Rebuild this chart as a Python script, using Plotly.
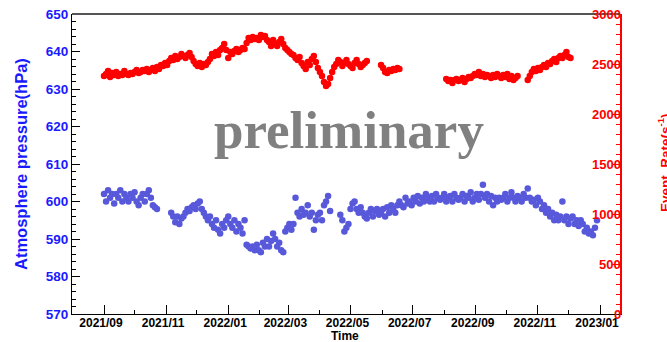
import pandas as pd
import plotly.graph_objects as go

# ---------------- data (one value every 2 days) ----------------
# Atmospheric pressure (hPa), left axis
pres_seg1_start = "2021-09-01"
pres_seg1 = [602, 600, 603, 601, 602, 599.5, 602, 601, 603, 600, 602, 601, 600, 602, 601,
             602.5, 600, 599, 601, 602, 600, 602, 603, 601, 599, 598.5, 598]
pres_seg2_start = "2021-11-06"
pres_seg2 = [597, 596, 594.5, 596, 594, 595.5, 596, 597, 598, 597.5, 598.5, 599, 598, 599.5,
             600, 598, 597, 596, 595, 596, 594, 593, 595, 592.5, 591.5, 594, 593, 595, 596,
             594, 593, 595, 592, 594, 593, 591.5, 595, 588.5, 588, 587.5, 588, 587, 588.5,
             587, 586.5, 589, 588, 590, 588, 589.5, 591.5, 590, 588, 589, 587, 586.5, 592,
             593, 594, 592.5, 594, 601, 597, 596, 598, 596.5, 597, 599, 596, 597, 592.5, 595,
             596.5, 597, 595, 599, 600, 601.5, 597.5]
pres_seg3_start = "2022-04-21"
pres_seg3 = [596.5, 595, 592, 593, 594, 598, 599.5, 600, 598, 597, 598.5, 597, 596, 595.5,
             597, 598, 596, 597.5, 598, 596.5, 597, 598, 596, 598.5, 597, 599, 598, 597, 599,
             600, 599, 598.5, 601, 599.5, 600, 599, 601, 600, 601.5, 599.5, 601, 600, 602,
             601, 600, 601.5, 600, 602, 601, 600.5, 601, 602, 600, 601, 601.5, 600, 602, 601,
             600.5, 601, 602, 600, 601.5, 601, 602.5, 600, 601, 602, 600.5, 602, 604.5, 601,
             602, 600, 601.5, 599, 601, 600, 601, 600.5, 601, 602, 600, 601, 602.5, 601, 600,
             601.5, 601, 600, 602, 601, 603.5, 601, 600, 600.5, 599, 601, 600, 598, 599, 597,
             598, 596, 597, 595, 596.5, 595, 596, 600, 595, 596, 594, 595.5, 596, 594, 595,
             593.5, 595, 594, 592, 593, 591.5, 592, 591, 593, 595]

# Event rate (s^-1), right axis
rate_seg1_start = "2021-09-01"
rate_seg1 = [2380, 2400, 2430, 2370, 2410, 2390, 2420, 2380, 2400, 2390, 2430, 2400, 2390,
             2410, 2400, 2420, 2440, 2410, 2420, 2440, 2430, 2450, 2420, 2440, 2460, 2430,
             2470, 2450, 2490, 2480, 2510, 2490, 2530, 2560, 2540, 2580, 2550, 2570, 2600,
             2580, 2560, 2590, 2610, 2570, 2530, 2500, 2480, 2510, 2470, 2500, 2490, 2520,
             2550, 2600, 2580, 2620, 2590, 2640, 2660, 2700, 2640, 2560, 2620, 2600, 2630,
             2650, 2620, 2640, 2660, 2650, 2710, 2760, 2740, 2770, 2750, 2760, 2740, 2790,
             2770, 2780, 2740, 2720, 2680, 2740, 2700, 2680, 2720, 2750, 2700, 2660, 2640,
             2620, 2600, 2590, 2560, 2540, 2570, 2510, 2480, 2450, 2520, 2490, 2550, 2580,
             2520, 2460, 2420, 2380, 2320, 2280, 2300, 2360, 2420, 2470, 2500, 2540, 2520,
             2480, 2510, 2540, 2500, 2480, 2460, 2510, 2540, 2500, 2470, 2490, 2510, 2530]
rate_seg2_start = "2022-05-31"
rate_seg2 = [2490, 2460, 2420, 2410, 2440, 2430, 2450, 2440, 2460, 2450]
rate_seg3_start = "2022-08-03"
rate_seg3 = [2350, 2330, 2340, 2310, 2340, 2350, 2330, 2340, 2360, 2320, 2350, 2370, 2360,
             2380, 2400, 2390, 2420, 2380, 2400, 2370, 2390, 2380, 2360, 2390, 2370, 2400,
             2380, 2360, 2390, 2370, 2400, 2350, 2380, 2340, 2360, 2380]
rate_seg4_start = "2022-10-22"
rate_seg4 = [2340, 2380, 2420, 2450, 2430, 2460, 2440, 2470, 2490, 2470, 2510, 2500, 2530,
             2550, 2520, 2560, 2580, 2560, 2590, 2620, 2570, 2560]

left_ticks = [570, 580, 590, 600, 610, 620, 630, 640, 650]
right_ticks = [0, 500, 1000, 1500, 2000, 2500, 3000]
x_tick_dates = ["2021-09-01", "2021-11-01", "2022-01-01", "2022-03-01", "2022-05-01",
                "2022-07-01", "2022-09-01", "2022-11-01", "2023-01-01"]
x_tick_labels = ["2021/09", "2021/11", "2022/01", "2022/03", "2022/05",
                 "2022/07", "2022/09", "2022/11", "2023/01"]


def series(segments):
    xs, ys = [], []
    for start, vals in segments:
        xs += list(pd.date_range(start, periods=len(vals), freq="2D"))
        ys += vals
    return xs, ys


px_, py_ = series([(pres_seg1_start, pres_seg1), (pres_seg2_start, pres_seg2),
                   (pres_seg3_start, pres_seg3)])
rx_, ry_ = series([(rate_seg1_start, rate_seg1), (rate_seg2_start, rate_seg2),
                   (rate_seg3_start, rate_seg3), (rate_seg4_start, rate_seg4)])

BLUE = "#5858da"
RED = "#ff0000"
LBLUE = "#1a1aff"
FONT = "Liberation Sans, Arial, sans-serif"

fig = go.Figure()
fig.add_trace(go.Scatter(x=rx_, y=ry_, mode="markers", yaxis="y2",
                         marker=dict(color=RED, size=6.5, line=dict(width=0)),
                         showlegend=False))
fig.add_trace(go.Scatter(x=px_, y=py_, mode="markers", yaxis="y",
                         marker=dict(color=BLUE, size=6.5, line=dict(width=0)),
                         showlegend=False))

fig.update_layout(
    width=667, height=342,
    margin=dict(l=72, r=47, t=14, b=28),
    plot_bgcolor="white", paper_bgcolor="white",
    showlegend=False,
    xaxis=dict(
        type="date", automargin=False,
        range=["2021-07-31 14:00", "2023-01-20 14:00"],
        tickvals=x_tick_dates, ticktext=x_tick_labels,
        ticks="inside", ticklen=9, tickcolor="black", tickwidth=1,
        minor=dict(dtick="M1", tick0="2021-08-01", ticks="inside", ticklen=4,
                   tickcolor="black"),
        showline=True, linecolor="black", linewidth=1,
        showgrid=False, zeroline=False,
        tickfont=dict(family=FONT, size=12, color="black", weight="bold"),
        ticklabelshift=-3, ticklabelstandoff=-2,
    ),
    yaxis=dict(
        range=[570, 650], tickvals=left_ticks, automargin=False,
        ticks="inside", ticklen=8, tickcolor="black",
        minor=dict(dtick=2, ticks="inside", ticklen=4, tickcolor="black"),
        showline=True, linecolor="black", linewidth=1,
        showgrid=False, zeroline=False,
        tickfont=dict(family=FONT, size=13.5, color=LBLUE, weight="bold"),
    ),
    yaxis2=dict(
        range=[0, 3000], tickvals=right_ticks, overlaying="y", side="right", anchor="x",
        automargin=False,
        ticks="inside", ticklen=8, tickcolor=RED,
        minor=dict(dtick=100, ticks="inside", ticklen=4, tickcolor=RED),
        showline=True, linecolor=RED, linewidth=2,
        showgrid=False, zeroline=False,
        showticklabels=False,
    ),
)

# top frame line
fig.add_shape(type="line", xref="paper", yref="paper", x0=0, x1=1, y0=1, y1=1,
              line=dict(color="#555555", width=2))

W = 548.0
H = 300.0
# right-axis tick labels (drawn inside the frame, as in the reference)
for v in right_ticks:
    fig.add_annotation(text=str(v), xref="paper", yref="y2", x=(623 - 72) / W, y=v,
                       showarrow=False, xanchor="right", yanchor="middle",
                       font=dict(family=FONT, size=13, color=RED, weight="bold"))

# axis titles
fig.add_annotation(text="Atmosphere pressure(hPa)", xref="paper", yref="paper",
                   x=(21 - 72) / W, y=0.5, textangle=-90, showarrow=False,
                   xanchor="center", yanchor="middle",
                   font=dict(family=FONT, size=16.5, color=LBLUE, weight="bold"))
fig.add_annotation(text="Event  Rate(s<sup>-1</sup>)", xref="paper", yref="paper",
                   x=(664 - 72) / W, y=(314 - 163) / H, textangle=-90, showarrow=False,
                   xanchor="center", yanchor="middle",
                   font=dict(family=FONT, size=13.5, color=RED, weight="bold"))
fig.add_annotation(text="Time", xref="paper", yref="paper",
                   x=(345 - 72) / W, y=(314 - 328) / H, showarrow=False,
                   xanchor="center", yanchor="top", borderpad=0,
                   font=dict(family=FONT, size=12, color="black", weight="bold"))
# watermark
fig.add_annotation(text="preliminary", xref="paper", yref="paper",
                   x=(348.5 - 72) / W, y=(314 - 130) / H, showarrow=False,
                   xanchor="center", yanchor="middle",
                   font=dict(family="Liberation Serif, Times New Roman, serif", size=53,
                             color="#808080", weight="bold"))

fig.write_html("out.html")
